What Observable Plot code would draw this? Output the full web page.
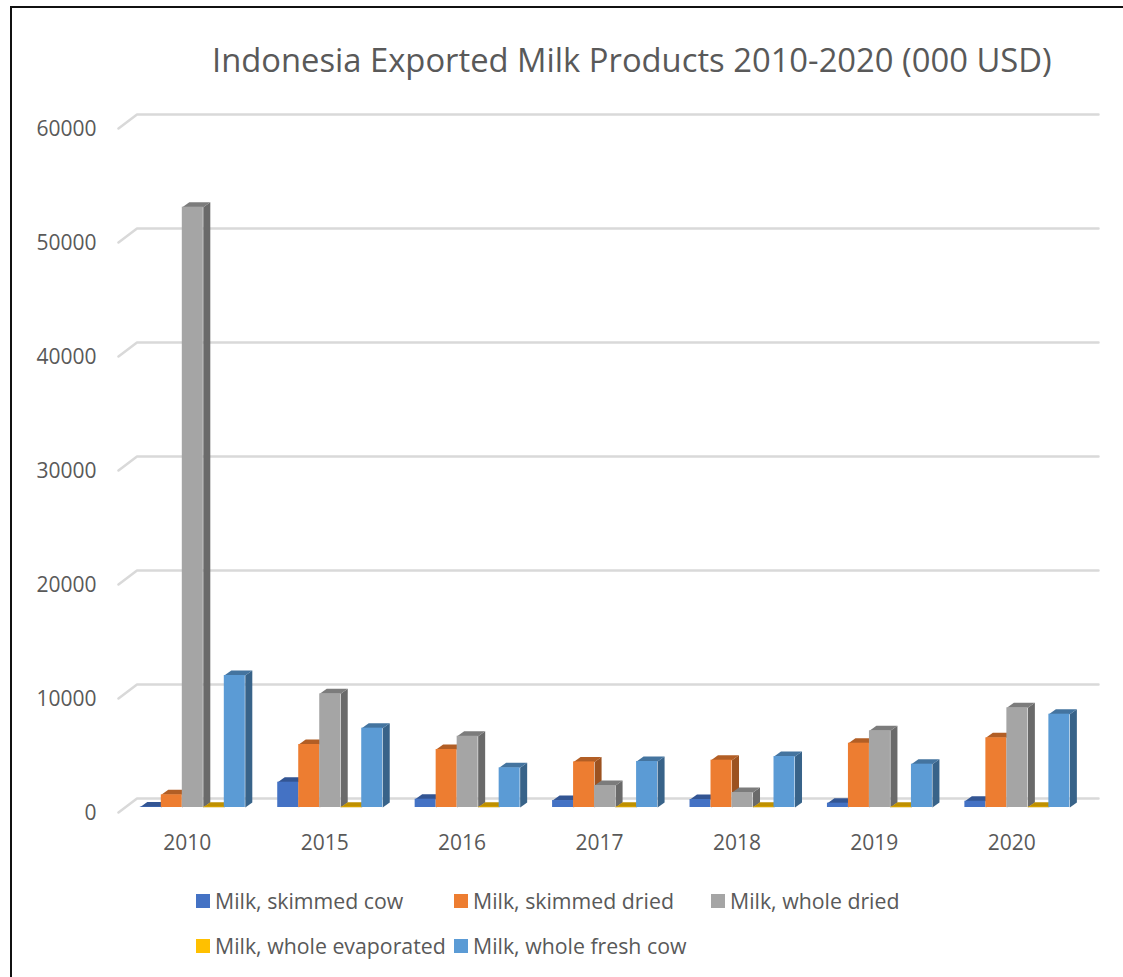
<!DOCTYPE html>
<html>
<head>
<meta charset="utf-8">
<script src="https://cdn.jsdelivr.net/npm/d3@7"></script>
<script src="https://cdn.jsdelivr.net/npm/@observablehq/plot@0.6"></script>
<style>
  html, body { margin: 0; padding: 0; background: #fff; overflow: hidden; }
  body { width: 1123px; height: 977px; position: relative; font-family: "Open Sans", sans-serif; color: #595959; }
  #frame { position: absolute; left: 10px; top: 6px; width: 1113px; height: 971px; border-left: 2px solid #111; border-top: 2px solid #111; box-sizing: border-box; }
  #title { position: absolute; left: 212px; top: 38px; margin: 0; font-weight: 400; font-size: 32.75px; line-height: 44px; white-space: nowrap; }
  #chart { position: absolute; left: 0; top: 100px; }
  .key { position: absolute; display: flex; align-items: center; font-size: 21.3px; line-height: 28px; white-space: nowrap; }
  .key i { display: block; width: 14px; height: 14px; margin-right: 5px; }
</style>
</head>
<body>
<div id="frame"></div>
<h1 id="title">Indonesia Exported Milk Products 2010-2020 (000 USD)</h1>
<div id="chart"></div>
<div id="legend"></div>
<script>
// Export values in thousand USD, one entry per year
const years = ["2010", "2015", "2016", "2017", "2018", "2019", "2020"];
const skimmedCow = [40, 2220, 730, 610, 700, 380, 550];
const skimmedDried = [1110, 5525, 5090, 4000, 4150, 5640, 6110];
const wholeDried = [52660, 9970, 6250, 1930, 1315, 6730, 8745];
const wholeEvaporated = [30, 30, 30, 30, 30, 30, 30];
const wholeFreshCow = [11580, 6960, 3480, 4035, 4470, 3800, 8185];

const seriesNames = ["Milk, skimmed cow", "Milk, skimmed dried", "Milk, whole dried", "Milk, whole evaporated", "Milk, whole fresh cow"];
const seriesValues = [skimmedCow, skimmedDried, wholeDried, wholeEvaporated, wholeFreshCow];
const yTicks = [0, 10000, 20000, 30000, 40000, 50000, 60000];

// Face colours for the extruded columns
const frontColors = ["#4472c4", "#ed7d31", "#a5a5a5", "#ffc000", "#5b9bd5"];
const topColors = ["#335593", "#b25e25", "#7c7c7c", "#bf9000", "#44749f"];
const sideColors = ["#2b4a80", "#9c5220", "#6a6a6a", "#a67d00", "#386389"];

// Pixel proportions of the pseudo-3D projection
const width = 1123, height = 760;
const margins = {top: 23, right: 43, bottom: 53, left: 118};
const pxX = (width - margins.left - margins.right) / years.length;   // pixels per category
const pxV = (height - margins.top - margins.bottom) / 60000;         // pixels per unit of value
const barW = 21 / pxX, barStart = 21.8 / pxX;
const depthX = 7 / pxX, depthV = 5 / pxV;

const bars = seriesNames.flatMap((name, s) => years.map((year, i) => {
  const x1 = i + barStart + s * barW;
  return {id: `${s}-${i}`, series: name, s, value: seriesValues[s][i], x1, x2: x1 + barW};
}));

const sideFaces = bars.flatMap(b => [
  [b.x2, 0], [b.x2 + depthX, depthV], [b.x2 + depthX, b.value + depthV], [b.x2, b.value]
].map(([x, y]) => ({id: b.id, x, y, color: sideColors[b.s]})));

const topFaces = bars.flatMap(b => [
  [b.x1, b.value], [b.x1 + depthX, b.value + depthV], [b.x2 + depthX, b.value + depthV], [b.x2, b.value]
].map(([x, y]) => ({id: b.id, x, y, color: topColors[b.s]})));

// Gridlines: a short slanted floor segment on the left, then the back wall
const wallX = 18.5 / pxX, wallEnd = (1098 - margins.left) / pxX;
const frontLift = -5 / pxV, wallLift = 9 / pxV;
const grid = yTicks.flatMap(v => [
  {v, x: 0, y: v + frontLift},
  {v, x: wallX, y: v + wallLift},
  {v, x: wallEnd, y: v + wallLift}
]);

const plot = Plot.plot({
  width, height,
  marginTop: margins.top, marginBottom: margins.bottom, marginLeft: margins.left, marginRight: margins.right,
  x: {domain: [0, years.length]},
  y: {domain: [0, 60000]},
  color: {type: "identity"},
  style: {fontFamily: "'Open Sans', sans-serif", background: "transparent", overflow: "visible"},
  marks: [
    Plot.line(grid, {x: "x", y: "y", z: "v", stroke: "#d9d9d9", strokeWidth: 2.5}),
    Plot.line(sideFaces, {x: "x", y: "y", z: "id", fill: "color", stroke: "none", curve: "linear-closed"}),
    Plot.line(topFaces, {x: "x", y: "y", z: "id", fill: "color", stroke: "none", curve: "linear-closed"}),
    Plot.rect(bars, {x1: "x1", x2: "x2", y1: 0, y2: "value", fill: d => frontColors[d.s], inset: 0}),
    Plot.axisY(yTicks, {
      anchor: "left", tickSize: 0, tickPadding: 22, dy: 6, label: null,
      tickFormat: d => String(d), fontSize: 21, fill: "#595959"
    }),
    Plot.axisX(years.map((_, i) => i + 0.5), {
      anchor: "bottom", tickSize: 0, tickPadding: 0, label: null, dy: 28,
      tickFormat: d => years[d - 0.5], fontSize: 21, fill: "#595959"
    })
  ]
});
document.getElementById("chart").append(plot);

// Two-row key beneath the chart
const keyCells = [[196, 887], [454, 887], [711, 887], [196, 932], [454, 932]];
const legend = document.getElementById("legend");
seriesNames.forEach((name, s) => {
  const el = document.createElement("div");
  el.className = "key";
  el.style.left = keyCells[s][0] + "px";
  el.style.top = keyCells[s][1] + "px";
  const swatch = document.createElement("i");
  swatch.style.background = frontColors[s];
  el.append(swatch, name);
  legend.append(el);
});
</script>
</body>
</html>
